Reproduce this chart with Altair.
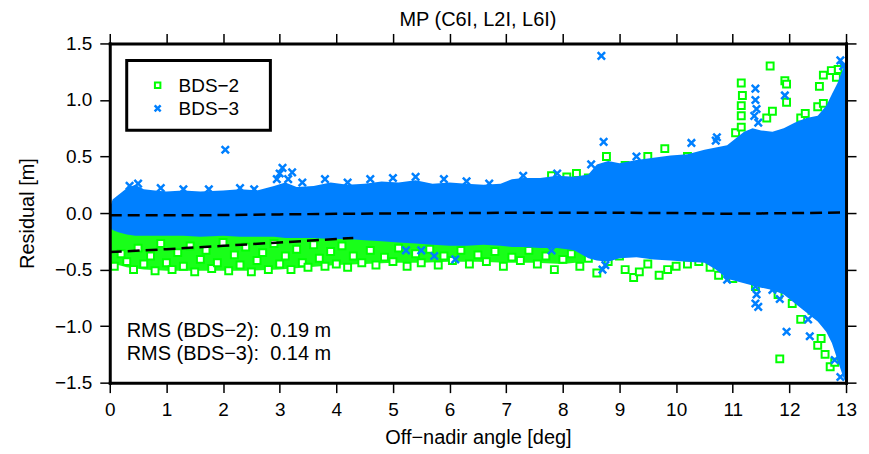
import altair as alt
import pandas as pd

FONT = "Liberation Sans, Arial, Helvetica, sans-serif"
BLUE = "#0080ff"
GREEN = "#00ff00"

# ---- BDS-3 dense cloud envelope ----
b3_x = [0.0, 0.05, 0.15, 0.3, 0.45, 0.6, 0.8, 1.0, 1.3, 1.6,
        2.0, 2.3, 2.6, 2.9, 3.1, 3.3, 3.6, 3.9, 4.2, 4.5,
        4.8, 5.1, 5.4, 5.7, 6.0, 6.3, 6.6, 6.9, 7.1, 7.3,
        7.6, 7.9, 8.2, 8.45, 8.6, 8.8, 9.0, 9.3, 9.6, 9.9,
        10.2, 10.5, 10.7, 10.9, 11.05, 11.2, 11.35, 11.5, 11.7, 11.9,
        12.1, 12.3, 12.5, 12.65, 12.75, 12.85, 12.95, 13.0]
b3_hi = [0.04, 0.12, 0.16, 0.22, 0.25, 0.21, 0.2, 0.19, 0.2, 0.19,
         0.2, 0.21, 0.2, 0.24, 0.27, 0.23, 0.24, 0.27, 0.25, 0.26,
         0.28, 0.27, 0.29, 0.26, 0.27, 0.26, 0.25, 0.26, 0.3, 0.31,
         0.31, 0.33, 0.32, 0.34, 0.43, 0.46, 0.44, 0.47, 0.49, 0.51,
         0.52, 0.56, 0.58, 0.6, 0.66, 0.72, 0.75, 0.73, 0.72, 0.75,
         0.8, 0.84, 0.86, 0.95, 1.05, 1.15, 1.28, 1.32]
b3_lo = [-0.1, -0.15, -0.17, -0.19, -0.2, -0.2, -0.2, -0.2, -0.2, -0.21,
         -0.2, -0.21, -0.21, -0.21, -0.22, -0.22, -0.22, -0.23, -0.23, -0.24,
         -0.25, -0.26, -0.27, -0.28, -0.29, -0.29, -0.28, -0.29, -0.3, -0.3,
         -0.31, -0.31, -0.33, -0.4, -0.42, -0.43, -0.4, -0.39, -0.41, -0.42,
         -0.43, -0.44, -0.5, -0.58, -0.6, -0.62, -0.64, -0.66, -0.68, -0.72,
         -0.8, -0.88, -0.96, -1.05, -1.15, -1.3, -1.45, -1.5]

# ---- BDS-2 dense band below the BDS-3 cloud ----
b2_x = [0.0, 0.3, 0.6, 1.0, 1.5, 2.0, 2.5, 3.0, 3.5, 4.0,
        4.5, 5.0, 5.5, 6.0, 6.5, 7.0, 7.5, 8.0, 8.4]
b2_hi = [-0.12, -0.18, -0.18, -0.18, -0.19, -0.18, -0.19, -0.19, -0.2, -0.21,
         -0.22, -0.23, -0.25, -0.27, -0.27, -0.28, -0.29, -0.3, -0.31]
b2_lo = [-0.44, -0.48, -0.5, -0.51, -0.51, -0.51, -0.51, -0.5, -0.48, -0.46,
         -0.45, -0.44, -0.44, -0.43, -0.43, -0.44, -0.44, -0.45, -0.43]

# ---- individual BDS-2 points (squares) ----
bds2_x = [0.08, 0.2, 0.3, 0.42, 0.5, 0.6, 0.72, 0.8, 0.9, 1.0,
          1.1, 1.2, 1.3, 1.42, 1.5, 1.6, 1.7, 1.8, 1.9, 2.0,
          2.1, 2.2, 2.3, 2.4, 2.5, 2.6, 2.7, 2.8, 2.9, 3.0,
          3.1, 3.2, 3.3, 3.4, 3.5, 3.6, 3.7, 3.8, 3.9, 4.0,
          4.1, 4.2, 4.3, 4.45, 4.6, 4.7, 4.85, 5.0, 5.1, 5.25,
          5.4, 5.5, 5.65, 5.8, 5.9, 6.05, 6.2, 6.35, 6.5, 6.65,
          6.8, 6.95, 7.1, 7.25, 7.4, 7.55, 7.7, 7.85, 8.0, 8.15,
          8.3, 8.45, 8.6, 8.8, 9.0, 9.1, 9.25, 9.35, 9.5, 9.7,
          9.85, 10.0, 10.2, 10.4, 10.6, 10.75, 11.0, 11.4, 11.8, 12.05,
          12.2, 12.4, 12.5, 12.56, 12.63, 12.72, 11.83, 12.8,
          7.8, 8.07, 8.24, 8.45, 8.77, 9.1, 9.5, 9.8, 10.2, 10.45,
          10.87, 11.05, 11.15, 11.17, 11.15, 11.15, 11.15, 11.2, 11.66, 11.6,
          11.7, 11.92, 11.95, 11.95, 12.2, 12.28, 12.5, 12.53, 12.6, 12.6,
          12.86, 12.83, 12.74]
bds2_y = [-0.47, -0.36, -0.43, -0.5, -0.31, -0.45, -0.38, -0.51, -0.27, -0.44,
          -0.5, -0.35, -0.47, -0.29, -0.52, -0.41, -0.33, -0.49, -0.44, -0.26,
          -0.51, -0.37, -0.46, -0.3, -0.52, -0.42, -0.35, -0.5, -0.27, -0.45,
          -0.38, -0.5, -0.32, -0.44, -0.48, -0.28, -0.4, -0.47, -0.34, -0.45,
          -0.29, -0.48, -0.38, -0.44, -0.33, -0.46, -0.39, -0.43, -0.31, -0.47,
          -0.36, -0.44, -0.32, -0.46, -0.38, -0.42, -0.33, -0.45, -0.37, -0.43,
          -0.34, -0.47, -0.39, -0.42, -0.33, -0.45, -0.38, -0.5, -0.41, -0.36,
          -0.47, -0.4, -0.53, -0.43, -0.38, -0.5, -0.57, -0.52, -0.45, -0.55,
          -0.5, -0.47, -0.45, -0.43, -0.48, -0.55, -0.58, -0.65, -0.72, -0.8,
          -0.94, -0.86, -1.17, -1.11, -1.25, -1.36, -1.29, -1.32,
          0.33, 0.32, 0.35, 0.31, 0.5, 0.42, 0.5, 0.57, 0.5, 0.49,
          0.53, 0.71, 1.15, 1.04, 0.95, 0.86, 0.76, 0.64, 1.3, 0.84,
          0.9, 1.17, 1.14, 0.98, 0.84, 0.88, 0.94, 1.12, 1.22, 0.97,
          1.27, 1.2, 1.26]

# ---- individual BDS-3 points (crosses) ----
bds3_x = [0.35, 0.5, 0.9, 1.3, 1.75, 2.04, 2.3, 2.55, 2.95, 3.0,
          3.05, 3.15, 3.22, 3.4, 3.8, 4.2, 4.6, 5.0, 5.4, 5.9,
          6.3, 6.7, 7.3, 7.9, 8.5, 8.68, 8.72, 9.3, 10.27, 10.7,
          10.72, 11.4, 11.4, 11.42, 11.38, 11.45, 11.92, 12.9, 12.95,
          0.05, 5.23, 5.5, 5.73, 6.1, 7.8, 8.7, 8.75, 10.9, 11.4,
          11.42, 11.4, 11.45, 11.7, 11.83, 11.95, 12.33, 12.36, 12.8, 12.9]
bds3_y = [0.24, 0.26, 0.22, 0.21, 0.21, 0.56, 0.22, 0.21, 0.3, 0.35,
          0.4, 0.3, 0.36, 0.27, 0.3, 0.27, 0.3, 0.31, 0.32, 0.3,
          0.28, 0.26, 0.33, 0.35, 0.43, 1.39, 0.63, 0.5, 0.62, 0.64,
          0.67, 1.1, 1.0, 0.92, 0.86, 0.8, 1.04, 1.35, 1.3,
          -0.12, -0.33, -0.33, -0.38, -0.41, -0.33, -0.5, -0.46, -0.59, -0.65,
          -0.72, -0.8, -0.83, -0.68, -0.76, -1.05, -0.94, -1.09, -1.3, -1.45]

# ---- dashed mean lines ----
mean3_x = [0, 1, 2, 3, 4, 5, 6, 7, 8, 9, 10, 10.8, 11.5, 12.2, 13]
mean3_y = [-0.02, -0.02, -0.018, -0.012, -0.007, -0.003, 0.0, 0.002, 0.003, 0.002,
           0.0, -0.006, -0.003, 0.0, 0.005]
mean2_x = [0, 1, 2, 3, 4, 4.3]
mean2_y = [-0.345, -0.32, -0.29, -0.26, -0.23, -0.22]

x_ticks = list(range(14))
y_ticks = [-1.5, -1.0, -0.5, 0.0, 0.5, 1.0, 1.5]
legend_labels = ["BDS−2", "BDS−3"]
rms_labels = ["RMS (BDS−2):\u00a0\u00a00.19 m", "RMS (BDS−3):\u00a0\u00a00.14 m"]
title_text = "MP (C6I, L2I, L6I)"
x_title = "Off−nadir angle [deg]"
y_title = "Residual [m]"

df_b3 = pd.DataFrame({"x": b3_x, "hi": b3_hi, "lo": b3_lo})
df_b2 = pd.DataFrame({"x": b2_x, "hi": b2_hi, "lo": b2_lo})
df_p2 = pd.DataFrame({"x": bds2_x, "y": bds2_y})
df_p3 = pd.DataFrame({"x": bds3_x, "y": bds3_y})
df_mean = pd.DataFrame({
    "x": mean3_x + mean2_x,
    "y": mean3_y + mean2_y,
    "series": ["BDS-3"] * len(mean3_x) + ["BDS-2"] * len(mean2_x),
})

xs = alt.Scale(domain=[0, 13], nice=False, zero=False)
ys = alt.Scale(domain=[-1.5, 1.5], nice=False, zero=False)

common_axis = dict(
    tickSize=10, tickWidth=1.5, tickColor="black",
    domainColor="black", domainWidth=3, domainCap="square",
    grid=False, zindex=1,
    labelFont=FONT, labelFontSize=19, labelColor="black",
    titleFont=FONT, titleFontSize=20, titleFontWeight="normal", titleColor="black",
)
x_ax = alt.Axis(orient="bottom", values=x_ticks, format="d", title=x_title,
                labelPadding=8, titlePadding=8, labelFlush=False, labelOverlap=False,
                **common_axis)
y_ax = alt.Axis(orient="left", values=y_ticks, format=".1f", title=y_title,
                labelPadding=8, titlePadding=17, labelOverlap=False, **common_axis)
x_top = alt.Axis(orient="top", values=x_ticks, labels=False, title=None, **common_axis)
y_right = alt.Axis(orient="right", values=y_ticks, labels=False, title=None, **common_axis)

X = lambda f: alt.X(f, type="quantitative", scale=xs, axis=x_ax)
Y = lambda f: alt.Y(f, type="quantitative", scale=ys, axis=y_ax)

cross_path = "M-1,-1L1,1M-1,1L1,-1"

green_band = alt.Chart(df_b2).mark_area(color=GREEN, opacity=0.9, clip=True).encode(
    x=X("x"), y=Y("lo"), y2="hi")
green_pts = alt.Chart(df_p2).mark_point(
    shape="square", filled=True, fill="white", stroke=GREEN, strokeWidth=2,
    size=48, opacity=1, clip=True).encode(x=X("x"), y=Y("y"))
blue_cloud = alt.Chart(df_b3).mark_area(color=BLUE, opacity=1, clip=True).encode(
    x=X("x"), y=Y("lo"), y2="hi")
blue_pts = alt.Chart(df_p3).mark_point(
    shape=cross_path, filled=False, stroke=BLUE, strokeWidth=2.5,
    size=55, opacity=1, clip=True).encode(x=X("x"), y=Y("y"))

# legend box (drawn manually, GMT style)
one = pd.DataFrame({"label": [""]})
leg_box = alt.Chart(one).mark_rect(
    fill="white", stroke="black", strokeWidth=3).encode(
    x=alt.value(17), x2=alt.value(161), y=alt.value(17), y2=alt.value(87))
leg_sq = alt.Chart(one).mark_point(
    shape="square", filled=True, fill="white", stroke=GREEN, strokeWidth=2,
    size=30, opacity=1).encode(x=alt.value(48), y=alt.value(42))
leg_x = alt.Chart(one).mark_point(
    shape=cross_path, filled=False, stroke=BLUE, strokeWidth=2.5,
    size=36, opacity=1).encode(x=alt.value(48), y=alt.value(65))


def text_line(label, xpx, ypx, size):
    return alt.Chart(pd.DataFrame({"label": [label]})).mark_text(
        align="left", baseline="alphabetic", font=FONT, fontSize=size,
        color="black").encode(x=alt.value(xpx), y=alt.value(ypx), text="label:N")


leg_t1 = text_line(legend_labels[0], 69, 49, 19)
leg_t2 = text_line(legend_labels[1], 69, 72, 19)
rms_t1 = text_line(rms_labels[0], 17, 294, 20)
rms_t2 = text_line(rms_labels[1], 17, 317, 20)

inner = alt.layer(green_band, green_pts, blue_cloud, blue_pts,
                  leg_box, leg_sq, leg_x, leg_t1, leg_t2, rms_t1, rms_t2)

mean_lines = alt.Chart(df_mean).mark_line(
    color="black", strokeDash=[12, 6], strokeWidth=2.5, clip=True).encode(
    x=alt.X("x:Q", scale=xs, axis=x_top),
    y=alt.Y("y:Q", scale=ys, axis=y_right),
    detail="series:N")

chart = alt.layer(inner, mean_lines).resolve_axis(
    x="independent", y="independent").properties(
    width=738, height=340,
    title=alt.TitleParams(title_text, font=FONT, fontSize=20, fontWeight="normal",
                          color="black", anchor="middle", offset=3),
    autosize=alt.AutoSizeParams(type="none"),
    padding={"left": 102, "top": 35, "right": 15, "bottom": 75},
).configure_view(stroke=None).configure(background="white")

chart.save("out.html", embed_options={"renderer": "svg", "actions": False})
